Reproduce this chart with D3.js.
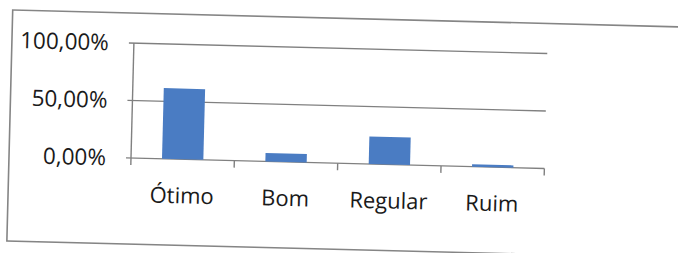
<!DOCTYPE html>
<html>
<head>
<meta charset="utf-8">
<script src="https://cdn.jsdelivr.net/npm/d3@7"></script>
<style>
  html, body { margin: 0; padding: 0; background: #fff; }
  svg { display: block; }
  text { font-family: "Open Sans", "Noto Sans", sans-serif; fill: #1a1a1a; }
</style>
</head>
<body>
<svg id="chart" width="678" height="253"></svg>
<script>
// Data
const categories = ["Ótimo", "Bom", "Regular", "Ruim"];
const values = [0.615, 0.073, 0.24, 0.02];
const yTicks = [0, 0.5, 1.0];
const yTickLabels = ["0,00%", "50,00%", "100,00%"];

const svg = d3.select("#chart");
// The scanned chart is slightly rotated clockwise
const g = svg.append("g").attr("transform", "rotate(1.45,130,158)");

// Outer frame
g.append("rect")
  .attr("x", 9).attr("y", 13)
  .attr("width", 760).attr("height", 231)
  .attr("fill", "none")
  .attr("stroke", "#858585")
  .attr("stroke-width", 1.6);

const plotLeft = 131, plotRight = 544.5, plotTop = 43, plotBottom = 158;

const x = d3.scaleBand()
  .domain(categories)
  .range([plotLeft, plotRight])
  .paddingInner(0.6)
  .paddingOuter(0.3);

const y = d3.scaleLinear()
  .domain([0, 1])
  .range([plotBottom, plotTop]);

// Gridlines (with left tick stubs)
g.append("g")
  .selectAll("line")
  .data(yTicks)
  .join("line")
  .attr("x1", plotLeft - 5)
  .attr("x2", plotRight)
  .attr("y1", d => y(d))
  .attr("y2", d => y(d))
  .attr("stroke", "#808080")
  .attr("stroke-width", 1.4);

// Y axis line
g.append("line")
  .attr("x1", plotLeft).attr("x2", plotLeft)
  .attr("y1", y(1)).attr("y2", y(0))
  .attr("stroke", "#808080")
  .attr("stroke-width", 1.4);

// Y tick labels
g.append("g")
  .selectAll("text")
  .data(yTicks)
  .join("text")
  .attr("x", 106)
  .attr("y", d => y(d))
  .attr("dy", "0.35em")
  .attr("text-anchor", "end")
  .attr("font-size", 22.5)
  .text((d, i) => yTickLabels[i]);

// Bars
g.append("g")
  .selectAll("rect")
  .data(values)
  .join("rect")
  .attr("x", (d, i) => x(categories[i]))
  .attr("width", x.bandwidth())
  .attr("y", d => y(d))
  .attr("height", d => y(0) - y(d))
  .attr("fill", "#4a7cc3");

// Category boundary ticks
const boundaries = d3.range(categories.length + 1).map(k => plotLeft + k * (plotRight - plotLeft) / categories.length);
g.append("g")
  .selectAll("line")
  .data(boundaries)
  .join("line")
  .attr("x1", d => d).attr("x2", d => d)
  .attr("y1", y(0)).attr("y2", y(0) + 7)
  .attr("stroke", "#808080")
  .attr("stroke-width", 1.4);

// Category labels
g.append("g")
  .selectAll("text")
  .data(categories)
  .join("text")
  .attr("x", d => x(d) + x.bandwidth() / 2)
  .attr("y", 202)
  .attr("text-anchor", "middle")
  .attr("font-size", 22)
  .text(d => d);
</script>
</body>
</html>
